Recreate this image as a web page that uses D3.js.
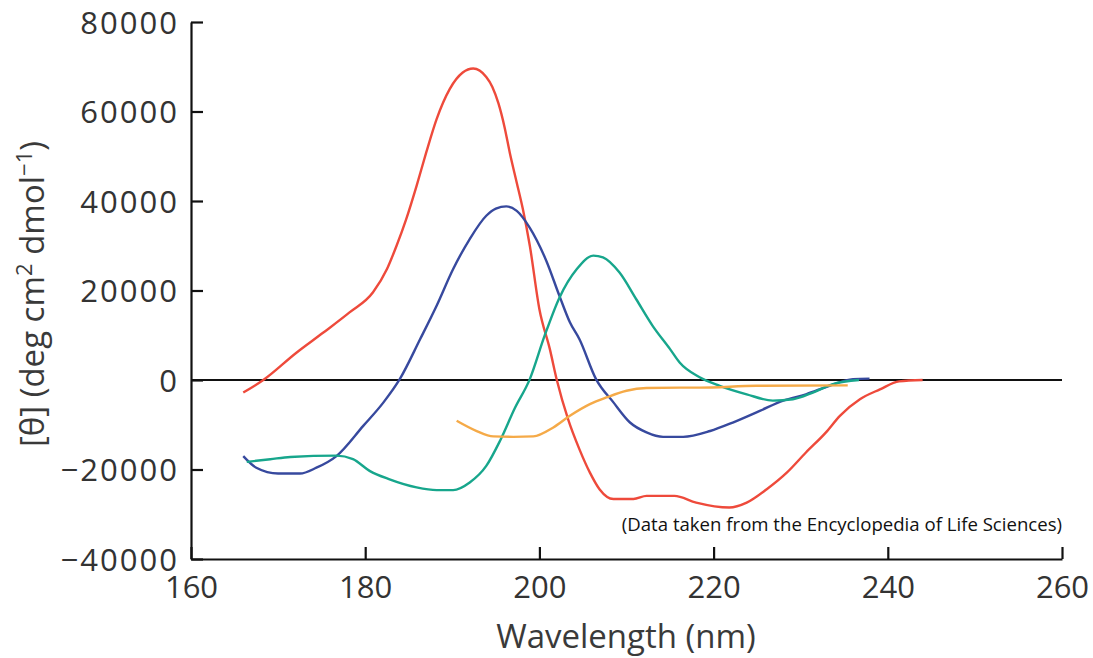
<!DOCTYPE html>
<html>
<head>
<meta charset="utf-8">
<script src="https://cdn.jsdelivr.net/npm/d3@7"></script>
<style>
  html, body { margin: 0; padding: 0; background: #fff; }
  svg { display: block; }
  text { font-family: "Open Sans", "Noto Sans", sans-serif; }
</style>
</head>
<body>
<svg id="chart" width="1093" height="658"></svg>
<script>
// ---- data (wavelength nm, [θ] deg cm2 dmol-1) ----
const xTicks = [160, 180, 200, 220, 240, 260];
const yTicks = [-40000, -20000, 0, 20000, 40000, 60000, 80000];

const redWl  = [166.0,168.3,172.1,175.2,178.2,180.9,182.5,183.6,184.7,185.9,187.0,188.2,189.7,191.2,192.4,193.9,194.6,195.3,196.0,196.6,197.4,198.1,198.9,200.0,201.2,202.0,203.3,204.6,205.8,206.9,208.5,210.8,212.3,215.5,218.0,221.8,223.8,226.1,228.4,230.6,232.9,234.5,236.8,239.1,241.3,244.0];
const redVal = [-2800,0,6100,10600,15100,19600,24800,30000,35900,43400,50800,58300,65000,68700,69600,67700,65500,61800,56500,50800,44100,38200,30000,15800,6900,0,-8800,-15500,-20700,-24400,-26600,-26600,-25900,-25900,-27400,-28500,-27400,-24400,-20700,-16200,-11700,-8000,-4300,-2100,-300,0];

const blueWl  = [166.0,167.5,170.0,172.5,174.4,176.7,179.8,182.1,184.0,186.3,188.2,190.1,192.0,193.9,195.0,196.2,197.4,198.9,200.8,202.3,203.5,204.6,206.5,208.5,210.4,212.3,214.2,216.5,219.6,222.2,225.3,228.0,230.6,233.3,236.0,237.9];
const blueVal = [-17000,-19600,-20900,-20900,-19600,-17000,-10200,-5000,300,9100,16600,24800,31500,36700,38300,38800,37800,34000,26600,18800,12900,9100,200,-5000,-9500,-11700,-12700,-12700,-11400,-9500,-6900,-4600,-3200,-1300,200,300];

const greenWl  = [166.4,169.1,171.4,176.7,178.6,180.5,182.8,185.9,188.2,190.1,192.0,193.9,195.5,197.2,198.9,200.6,202.3,204.3,206.2,207.3,209.2,211.1,213.0,215.0,216.1,218.4,220.7,223.8,226.8,229.1,231.4,233.7,236.7];
const greenVal = [-18300,-17700,-17200,-16900,-17700,-20300,-22200,-24000,-24600,-24600,-22900,-19200,-13500,-6200,200,9900,18400,24800,27800,27400,24000,18100,12100,6900,3900,600,-1300,-3200,-4600,-4300,-2800,-900,0];

const orangeWl  = [190.5,192.8,194.7,197.0,199.3,201.6,203.5,205.8,207.7,210.0,212.3,216.1,218.4,224.9,235.4];
const orangeVal = [-9100,-11400,-12600,-12700,-12600,-10600,-8000,-5400,-3900,-2400,-1800,-1700,-1700,-1300,-1200];

const seriesNames  = ["red", "blue", "green", "orange"];
const seriesColors = ["#ee4a3b", "#37499e", "#17a68c", "#f5aa48"];
const seriesWl  = [redWl, blueWl, greenWl, orangeWl];
const seriesVal = [redVal, blueVal, greenVal, orangeVal];

// ---- layout ----
const svg = d3.select("#chart");
const plotLeft = 191, plotRight = 1062, plotTop = 22, plotBottom = 559;
const x = d3.scaleLinear().domain([160, 260]).range([plotLeft, plotRight]);
const y = d3.scaleLinear().domain([-40000, 80000]).range([plotBottom, plotTop]);

const tickColor = "#333";

// Y axis
const yAxis = d3.axisLeft(y).tickValues(yTicks).tickSize(-12).tickSizeOuter(0).tickPadding(12)
  .tickFormat(d => d < 0 ? "\u2212" + Math.abs(d) : String(d));
const gy = svg.append("g").attr("transform", `translate(${plotLeft},0)`).call(yAxis);
gy.select(".domain").attr("stroke", "#111").attr("stroke-width", 2.2);
gy.selectAll(".tick line").attr("stroke", "#111").attr("stroke-width", 2.2);
gy.selectAll(".tick text").attr("fill", tickColor).attr("font-size", 31)
  .attr("dy", "0.37em")
  .style("letter-spacing", "2px")
  .style("font-family", "'Open Sans', sans-serif");

// X axis
const xAxis = d3.axisBottom(x).tickValues(xTicks).tickSize(-12).tickSizeOuter(0).tickPadding(17)
  .tickFormat(d3.format("d"));
const gx = svg.append("g").attr("transform", `translate(0,${plotBottom})`).call(xAxis);
gx.select(".domain").attr("stroke", "#111").attr("stroke-width", 2.2);
gx.selectAll(".tick line").attr("stroke", "#111").attr("stroke-width", 2.2);
gx.selectAll(".tick text").attr("fill", tickColor).attr("font-size", 31)
  .style("font-family", "'Open Sans', sans-serif");

// zero line
svg.append("line")
  .attr("x1", plotLeft).attr("x2", plotRight)
  .attr("y1", y(0)).attr("y2", y(0))
  .attr("stroke", "#111").attr("stroke-width", 2.2);

// curves
const line = d3.line().x(d => x(d[0])).y(d => y(d[1])).curve(d3.curveMonotoneX);
seriesNames.forEach((name, i) => {
  const pts = seriesWl[i].map((w, j) => [w, seriesVal[i][j]]);
  svg.append("path")
    .datum(pts)
    .attr("class", "series-" + name)
    .attr("fill", "none")
    .attr("stroke", seriesColors[i])
    .attr("stroke-width", 2.4)
    .attr("stroke-linejoin", "round")
    .attr("d", line);
});

// axis titles
svg.append("text")
  .attr("x", 626).attr("y", 647.5)
  .attr("text-anchor", "middle")
  .attr("font-size", 33)
  .attr("fill", "#3a3a3a")
  .text("Wavelength (nm)");

const yt = svg.append("text")
  .attr("transform", "translate(44,294) rotate(-90)")
  .attr("text-anchor", "middle")
  .attr("font-size", 33)
  .attr("fill", "#3a3a3a");
yt.append("tspan").text("[\u03b8] (deg cm");
yt.append("tspan").attr("font-size", 22).attr("dy", -12).text("2");
yt.append("tspan").attr("dy", 12).text(" dmol");
yt.append("tspan").attr("font-size", 22).attr("dy", -12).text("\u22121");
yt.append("tspan").attr("dy", 12).text(")");

// source note
svg.append("text")
  .attr("x", 1062).attr("y", 531)
  .attr("text-anchor", "end")
  .attr("font-size", 18.6)
  .attr("fill", "#111")
  .text("(Data taken from the Encyclopedia of Life Sciences)");
</script>
</body>
</html>
